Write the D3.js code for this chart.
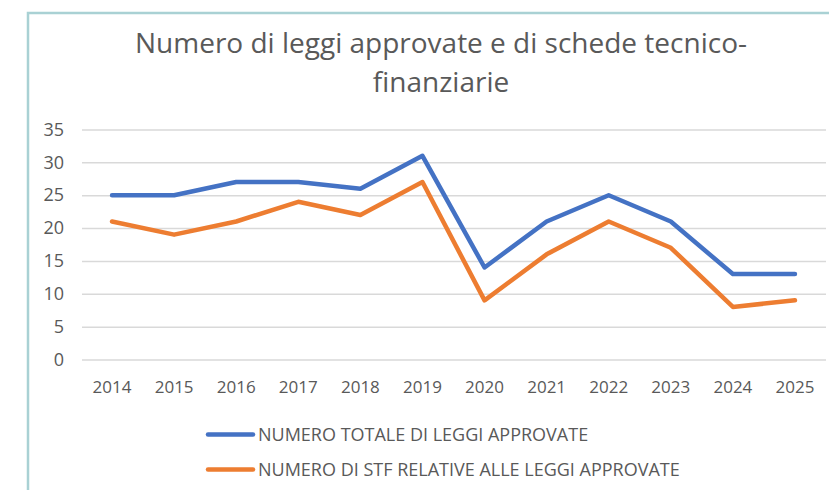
<!DOCTYPE html>
<html>
<head>
<meta charset="utf-8">
<script src="https://cdn.jsdelivr.net/npm/d3@7"></script>
<style>
  html, body { margin: 0; padding: 0; background: #fff; }
  svg { display: block; }
  text { font-family: "Open Sans", "Noto Sans", sans-serif; fill: #595959; }
</style>
</head>
<body>
<svg id="chart" width="829" height="490"></svg>
<script>
// Years on the horizontal axis
const years = ["2014", "2015", "2016", "2017", "2018", "2019", "2020", "2021", "2022", "2023", "2024", "2025"];
// Total number of laws approved each year
const leggiTotali = [25, 25, 27, 27, 26, 31, 14, 21, 25, 21, 13, 13];
// Number of technical-financial sheets (STF) for the approved laws
const stfRelative = [21, 19, 21, 24, 22, 27, 9, 16, 21, 17, 8, 9];
// Value axis ticks
const yTicks = [0, 5, 10, 15, 20, 25, 30, 35];
const seriesNames = ["NUMERO TOTALE DI LEGGI APPROVATE", "NUMERO DI STF RELATIVE ALLE LEGGI APPROVATE"];
const seriesColors = ["#4472C4", "#ED7D31"];
const titleLines = ["Numero di leggi approvate e di schede tecnico-", "finanziarie"];

const svg = d3.select("#chart");
const W = 829, H = 490;

// Chart frame: a teal rule along the top and left edges
svg.append("rect").attr("width", W).attr("height", H).attr("fill", "#fff");
svg.append("path")
  .attr("d", `M28,${H} L28,13 L${W},13`)
  .attr("fill", "none")
  .attr("stroke", "#A9D1D4")
  .attr("stroke-width", 2.5);

// Title
svg.append("g").selectAll("text").data(titleLines).join("text")
  .attr("x", 441)
  .attr("y", (d, i) => 53 + i * 39)
  .attr("text-anchor", "middle")
  .attr("font-size", 28)
  .text(d => d);

const x = d3.scaleBand().domain(years).range([81, 826]);
const y = d3.scaleLinear().domain([0, 35]).range([359.5, 129.5]);

// Horizontal gridlines and value labels
const yAxis = d3.axisLeft(y).tickValues(yTicks).tickSize(-(826 - 82)).tickPadding(18);
const gy = svg.append("g").attr("transform", "translate(82,0)").call(yAxis);
gy.select(".domain").remove();
gy.selectAll(".tick line").attr("stroke", "#D9D9D9").attr("stroke-width", 1.5);
gy.selectAll(".tick text").attr("font-size", 18).attr("fill", "#595959")
  .attr("font-family", "'Open Sans', sans-serif");

// Category labels
const xAxis = d3.axisBottom(x).tickSize(0).tickPadding(0);
const gx = svg.append("g").attr("transform", "translate(0,377)").call(xAxis);
gx.select(".domain").remove();
gx.selectAll(".tick text").attr("font-size", 17).attr("fill", "#595959")
  .attr("dy", "0.95em")
  .attr("font-family", "'Open Sans', sans-serif");

// Series lines
const line = d3.line()
  .x((d, i) => x(years[i]) + x.bandwidth() / 2)
  .y(d => y(d));

[leggiTotali, stfRelative].forEach((vals, k) => {
  svg.append("path")
    .datum(vals)
    .attr("d", line)
    .attr("fill", "none")
    .attr("stroke", seriesColors[k])
    .attr("stroke-width", 4.5)
    .attr("stroke-linejoin", "round")
    .attr("stroke-linecap", "round");
});

// Legend
const lg = svg.append("g").selectAll("g").data(seriesNames).join("g")
  .attr("transform", (d, i) => `translate(0,${434.5 + i * 35})`);
lg.append("line")
  .attr("x1", 208).attr("x2", 253).attr("y1", 0).attr("y2", 0)
  .attr("stroke", (d, i) => seriesColors[i])
  .attr("stroke-width", 4.5)
  .attr("stroke-linecap", "round");
lg.append("text")
  .attr("x", 258).attr("y", 0).attr("dy", "0.36em")
  .attr("font-size", 18)
  .text(d => d);
</script>
</body>
</html>
